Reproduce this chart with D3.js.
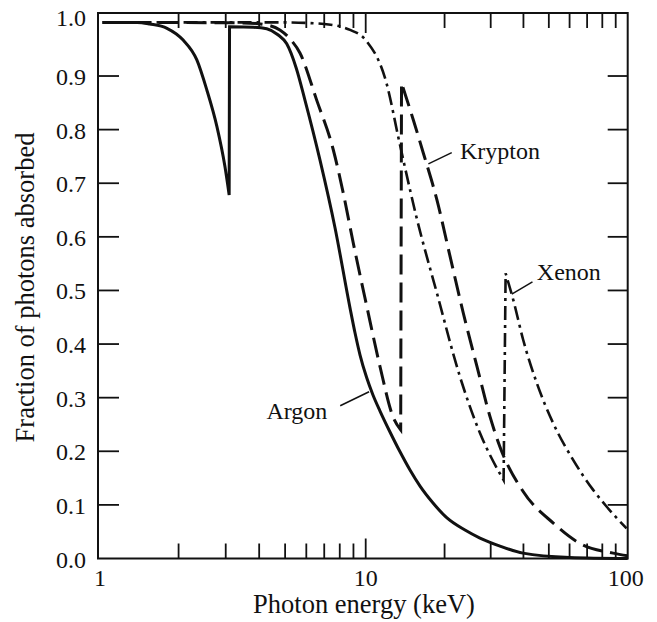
<!DOCTYPE html>
<html><head><meta charset="utf-8">
<script src="https://cdn.jsdelivr.net/npm/d3@7"></script>
<style>body{margin:0;background:#fff}svg{display:block}
svg text{font-family:"Liberation Serif","Tinos","Times New Roman","Nimbus Roman","DejaVu Serif","Noto Serif",serif;}</style>
</head><body><svg id="c" width="657" height="622"></svg>
<script>
// ---- data ----
const xMajorTicks = [1, 10, 100];
const xMajorLabels = ["1", "10", "100"];
const xMinorTicks = [2,3,4,5,6,7,8,9,20,30,40,50,60,70,80,90];
const yTickValues = [0,0.1,0.2,0.3,0.4,0.5,0.6,0.7,0.8,0.9,1.0];
const yTickLabels = ["0.0","0.1","0.2","0.3","0.4","0.5","0.6","0.7","0.8","0.9","1.0"];

const argonE = [1.04,1.4,1.56,1.81,2.08,2.34,2.55,2.78,2.98,3.09, 3.1,3.8,4.27,4.7,5.07,5.5,5.93,6.75,7.68,8.74,9.12,9.52,10.09,10.66,11.34,12.38,13.52,14.76,16.12,18.07,20.43,23.93,27.3,32.55,39.85,60,100];
const argonF = [1.0,1.0,0.997,0.989,0.967,0.93,0.874,0.806,0.731,0.678, 0.992,0.991,0.988,0.977,0.96,0.915,0.855,0.743,0.617,0.467,0.421,0.380,0.337,0.305,0.275,0.236,0.199,0.165,0.135,0.1035,0.0756,0.053,0.038,0.023,0.010,0.002,0.0];

const kryptonE = [1.04,3.5,4.3,4.78,5.2,5.68,6.56,7.57,8.25,8.99,10.1,11.34,12.7,13.6, 13.7,15.2,16.6,18.7,21,23.6,26.6,29.8,32.5,39.9,52,65.8,88,100];
const kryptonF = [1.0,0.999,0.995,0.986,0.97,0.943,0.855,0.762,0.681,0.588,0.47,0.358,0.265,0.24, 0.887,0.818,0.756,0.669,0.563,0.457,0.358,0.265,0.209,0.125,0.066,0.028,0.01,0.005];

const xenonE = [1.04,5,7,8.74,10,12.0,13.4,14.1,15.6,18.7,22.9,27.3,33.6, 34.2,36.6,39.9,45,52,61.9,73.8,83,99];
const xenonF = [1.0,1.0,0.997,0.986,0.967,0.887,0.78,0.731,0.638,0.495,0.339,0.234,0.146, 0.532,0.482,0.408,0.327,0.252,0.184,0.128,0.097,0.056];

const seriesNames = ["Argon","Krypton","Xenon"];

// ---- layout ----
const svg = d3.select("#c");
const left = 98, right = 627.7, bottom = 558.5, frameTop = 13;
const x = d3.scaleLog().domain([1,10,100]).range([left,365.7,right]);
const y = d3.scaleLinear().domain([0,1]).range([bottom,22.4]);
const ink = "#111";

// frame
svg.append("rect").attr("x",left).attr("y",frameTop).attr("width",right-left).attr("height",bottom-frameTop)
  .attr("fill","none").attr("stroke",ink).attr("stroke-width",2);

const tk = svg.append("g").attr("stroke",ink).attr("stroke-width",1.8);
xMinorTicks.forEach(v=>{
  tk.append("line").attr("x1",x(v)).attr("x2",x(v)).attr("y1",bottom).attr("y2",bottom-15);
  tk.append("line").attr("x1",x(v)).attr("x2",x(v)).attr("y1",frameTop).attr("y2",frameTop+15);
});
xMajorTicks.slice(1,2).forEach(v=>{
  tk.append("line").attr("x1",x(v)).attr("x2",x(v)).attr("y1",bottom).attr("y2",bottom-20);
  tk.append("line").attr("x1",x(v)).attr("x2",x(v)).attr("y1",frameTop).attr("y2",frameTop+20);
});
yTickValues.filter(v=>v>0 && v<1).forEach(v=>{
  tk.append("line").attr("x1",left).attr("x2",left+21).attr("y1",y(v)).attr("y2",y(v));
  tk.append("line").attr("x1",right).attr("x2",right-20).attr("y1",y(v)).attr("y2",y(v));
});

// tick labels
const lab = svg.append("g").attr("font-size",24).attr("fill",ink);
xMajorTicks.forEach((v,i)=>{
  lab.append("text").attr("x",x(v)+(i===0?2:i===2?-2:0)).attr("y",586).attr("text-anchor","middle").text(xMajorLabels[i]);
});
yTickValues.forEach((v,i)=>{
  const yy = v===1 ? frameTop+13 : y(v)+9;
  lab.append("text").attr("x",86).attr("y",yy).attr("text-anchor","end").text(yTickLabels[i]);
});

// axis titles
svg.append("text").attr("x",364).attr("y",613).attr("text-anchor","middle")
  .attr("font-size",26.5).attr("fill",ink).text("Photon energy (keV)");
svg.append("text").attr("transform","translate(34,287.5) rotate(-90)").attr("text-anchor","middle")
  .attr("font-size",26.5).attr("fill",ink).text("Fraction of photons absorbed");

// curves
const line = d3.line().x(d=>x(d[0])).y(d=>y(d[1])).curve(d3.curveMonotoneX);
function edgePath(E,F){
  const pieces=[[]];
  E.forEach((e,i)=>{
    if(i>0 && F[i]-F[i-1]>0.05) pieces.push([]);
    pieces[pieces.length-1].push([e,F[i]]);
  });
  return pieces.map((p,i)=>{const s=line(p); return i? s.replace(/^M/,"L") : s;}).join("");
}
const g = svg.append("g").attr("fill","none").attr("stroke",ink).attr("stroke-linejoin","miter");
g.append("path").attr("d",edgePath(xenonE,xenonF)).attr("stroke-width",2.6).attr("stroke-dasharray","14,5,3,5");
g.append("path").attr("d",edgePath(kryptonE,kryptonF)).attr("stroke-width",3).attr("stroke-dasharray","20,8");
g.append("path").attr("d",edgePath(argonE,argonF)).attr("stroke-width",3);

// annotations
const ann = [
  {name:seriesNames[0], l1:[8.03,0.285], l2:[10.3,0.311], t:[7.19,0.261], anchor:"end"},
  {name:seriesNames[1], l1:[17.35,0.736], l2:[21.3,0.757], t:[22.9,0.745], anchor:"start"},
  {name:seriesNames[2], l1:[36.1,0.493], l2:[43.3,0.516], t:[45.0,0.52], anchor:"start"}
];
ann.forEach(a=>{
  svg.append("line").attr("x1",x(a.l1[0])).attr("y1",y(a.l1[1])).attr("x2",x(a.l2[0])).attr("y2",y(a.l2[1]))
    .attr("stroke",ink).attr("stroke-width",1.5);
  svg.append("text").attr("x",x(a.t[0])).attr("y",y(a.t[1])).attr("text-anchor",a.anchor)
    .attr("font-size",24).attr("fill",ink).text(a.name);
});
</script></body></html>
